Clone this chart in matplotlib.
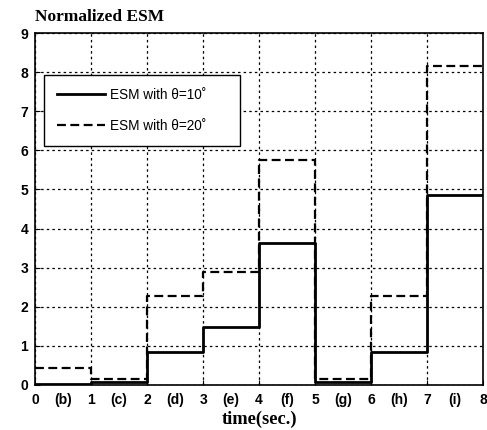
import numpy as np
import matplotlib
matplotlib.use("Agg")
import matplotlib.pyplot as plt

# time intervals (sec.) and per-interval normalized ESM
edges = [0, 1, 2, 3, 4, 5, 6, 7, 8]
esm_10 = [0.02, 0.07, 0.83, 1.48, 3.63, 0.07, 0.85, 4.86]
esm_20 = [0.42, 0.15, 2.27, 2.89, 5.75, 0.15, 2.28, 8.15]
phase_labels = ["(b)", "(c)", "(d)", "(e)", "(f)", "(g)", "(h)", "(i)"]

fig = plt.figure(figsize=(4.87, 4.30), dpi=100)
ax = fig.add_axes([0.072, 0.105, 0.92, 0.818])

ax.step(edges, esm_10 + [esm_10[-1]], where="post", color="black", lw=2.0,
        label="ESM with \u03b8=10\u02da")
ax.step(edges, esm_20 + [esm_20[-1]], where="post", color="black", lw=1.6,
        ls=(0, (4, 2)), label="ESM with \u03b8=20\u02da")

ax.set_xlim(0, 8)
ax.set_ylim(0, 9)
ax.set_xticks(edges)
ax.set_yticks(range(10))
ax.set_xticks([e + 0.5 for e in edges[:-1]], minor=True)
ax.set_xticklabels(phase_labels, minor=True)
ax.tick_params(which="minor", length=0)
ax.tick_params(which="both", direction="in", labelsize=10)
ax.tick_params(axis="x", which="both", pad=6)
ax.tick_params(axis="y", pad=5)
for lab in ax.get_xticklabels(which="both") + ax.get_yticklabels():
    lab.set_fontfamily("Liberation Sans")
    lab.set_fontweight("bold")
ax.grid(True, which="major", color="black", ls=(0, (2, 2.5)), lw=0.9)
for s in ax.spines.values():
    s.set_linewidth(1.2)

ax.set_xlabel("time(sec.)", fontfamily="Liberation Serif", fontweight="bold",
              fontsize=13.3, labelpad=2.5)
fig.text(0.072, 0.943, "Normalized ESM", fontfamily="Liberation Serif",
         fontweight="bold", fontsize=12.5, ha="left", va="bottom")

leg = ax.legend(loc="upper left", bbox_to_anchor=(0.02, 0.679, 0.4375, 0.202),
                mode="expand", fancybox=False, framealpha=1, edgecolor="black",
                handlelength=3.5, handletextpad=0.4, borderpad=0.95,
                labelspacing=1.25, borderaxespad=0,
                prop={"family": "Liberation Sans", "size": 9.8})
leg.get_frame().set_linewidth(1.0)

fig.savefig("out.png", dpi=100)
